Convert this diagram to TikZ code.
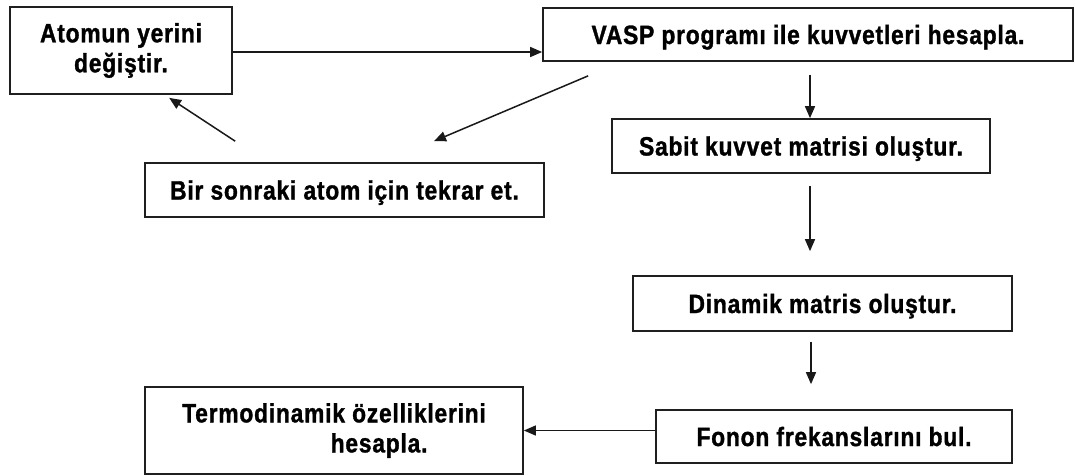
\documentclass[tikz,border=0pt]{standalone}
\usepackage{fontspec}
\setmainfont{Liberation Sans}[FakeStretch=0.86,FakeBold=1.2,LetterSpace=3]
\usetikzlibrary{arrows.meta,calc}
\begin{document}
\begin{tikzpicture}[x=1pt,y=-1pt,
  box/.style={draw=black!88, line width=1.7pt, inner sep=0pt,
    font=\fontsize{26.5}{30}\selectfont\bfseries},
  one/.style={box, text height=19pt, text depth=0pt},
  arr/.style={draw=black!90, line width=1.5pt, -{Triangle[length=12pt,width=10pt]}}]
\useasboundingbox[fill=white] (0,0) rectangle (1075,475);
% boxes
\node[box, align=center, minimum width=222pt, minimum height=87pt] (atom) at (121,50.5) {Atomun yerini\\değiştir.};
\node[one, minimum width=530pt, minimum height=53pt] (vasp) at (808,34.5) {VASP programı ile kuvvetleri hesapla.};
\node[one, minimum width=378pt, minimum height=54pt] (sabit) at (801,146) {Sabit kuvvet matrisi oluştur.};
\node[one, minimum width=399pt, minimum height=54pt] (bir) at (344.5,190) {Bir sonraki atom için tekrar et.};
\node[one, minimum width=379pt, minimum height=55pt] (dinamik) at (822.5,303.5) {Dinamik matris oluştur.};
\node[one, minimum width=356pt, minimum height=53pt] (fonon) at (834,436.5) {Fonon frekanslarını bul.};
\node[box, align=left, minimum width=378pt, minimum height=87pt] (termo) at (334,430.5) {Termodinamik özelliklerini\\\hspace*{148.5pt}hesapla.};
% connector ends
\coordinate (v1) at ($(vasp.south)+(2,13)$);
\coordinate (s1) at ($(sabit.south)+(9,12)$);
\coordinate (d0) at ($(dinamik.north)+(-12.5,-24)$);
\coordinate (d1) at ($(dinamik.south)+(-11.5,10)$);
\coordinate (f0) at ($(fonon.north)+(-23,-25)$);
\coordinate (v2) at ($(vasp.south west)+(46,14)$);
\coordinate (b0) at ($(bir.north)+(89.5,-21)$);
\coordinate (b1) at ($(bir.north west)+(91,-21)$);
\coordinate (a0) at ($(atom.south west)+(160,3)$);
% connectors
\draw[arr] ([yshift=-1.5pt]atom.east) -- ([yshift=-1.5pt]atom.east -| vasp.west);
\draw[arr] (v1) -- (v1 |- sabit.north);
\draw[arr] (s1) -- (d0);
\draw[arr] (d1) -- (f0);
\draw[arr] (fonon.west |- termo.east) -- (termo.east);
\draw[arr] (v2) -- (b0);
\draw[arr] (b1) -- (a0);
\end{tikzpicture}
\end{document}
